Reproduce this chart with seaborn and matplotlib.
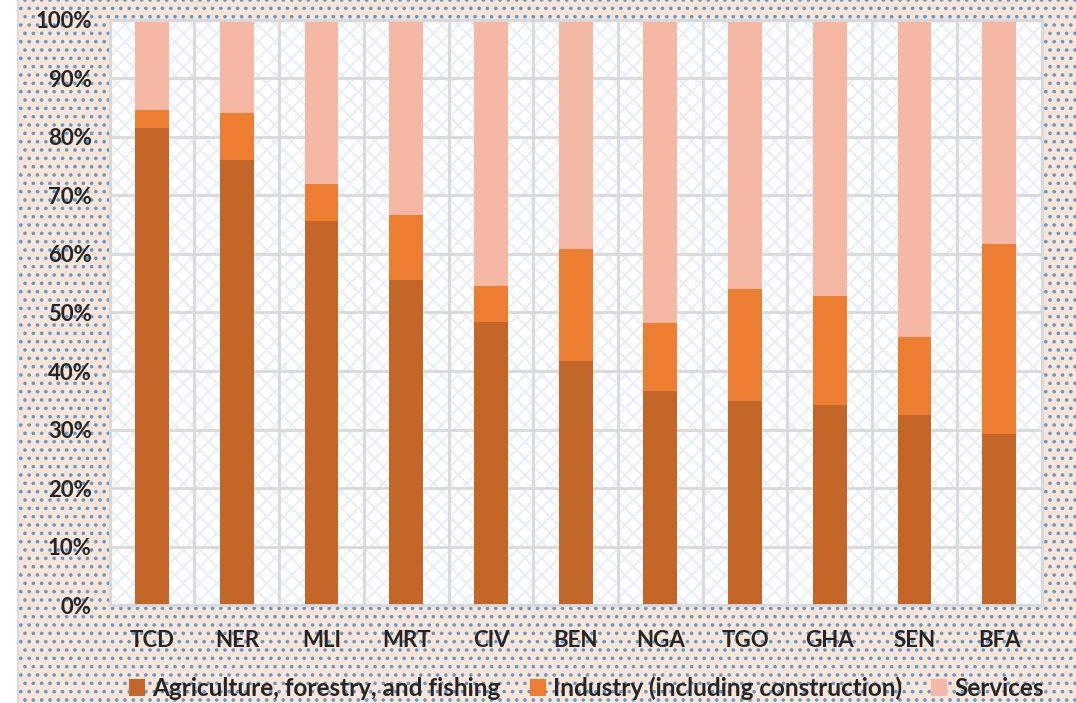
import numpy as np
import pandas as pd
import matplotlib
matplotlib.use("Agg")
import matplotlib.pyplot as plt
import seaborn as sns
from matplotlib.patches import Rectangle
from matplotlib.ticker import FixedLocator, PercentFormatter

# Datos (porcentaje del empleo por sector)
countries = ["TCD", "NER", "MLI", "MRT", "CIV", "BEN", "NGA", "TGO", "GHA", "SEN", "BFA"]
agriculture = [81.5, 76.1, 65.6, 55.6, 48.4, 41.7, 36.6, 34.9, 34.2, 32.5, 29.2]
industry = [3.1, 8.0, 6.4, 11.1, 6.1, 19.2, 11.6, 19.1, 18.6, 13.3, 32.5]
services = [100 - a - i for a, i in zip(agriculture, industry)]

labels = ["Agriculture, forestry, and fishing",
          "Industry (including construction)",
          "Services"]
colors = ["#C46628", "#ED7D31", "#F4B8A4"]

df = pd.DataFrame({"country": countries, "agri": agriculture,
                   "ind": industry, "serv": services})
df["top_ind"] = df["agri"] + df["ind"]
df["top_serv"] = df["top_ind"] + df["serv"]

sns.set_style("white")
plt.rcParams["font.family"] = ["Lato", "DejaVu Sans"]
plt.rcParams["hatch.linewidth"] = 1.4

fig = plt.figure(figsize=(10.76, 7.03), dpi=100)
fig.patch.set_facecolor("#FBE5D6")
fig.patch.set_edgecolor("#5B9BD5")
fig.patch.set_hatch("..")
fig.patch.set_linewidth(0)

# franja blanca a la izquierda con borde gris
fig.patches.append(Rectangle((0, 0), 0.016, 1, transform=fig.transFigure,
                             facecolor="white", edgecolor="none", zorder=0))
fig.patches.append(Rectangle((0.016, 0), 0.002, 1, transform=fig.transFigure,
                             facecolor="#D9D9D9", edgecolor="none", zorder=0))

ax = fig.add_axes([0.102, 0.139, 0.866, 0.833])
ax.patch.set_facecolor("white")
ax.patch.set_edgecolor("#E6EEF8")
ax.patch.set_hatch("\\\\//")
ax.patch.set_linewidth(0.5)
ax.set_axisbelow(True)

# Barras apiladas: de arriba hacia abajo
bar_kw = dict(width=0.4, saturation=1, ax=ax, zorder=2, linewidth=0, edgecolor="none")
sns.barplot(data=df, x="country", y="top_serv", color=colors[2], label=labels[2], **bar_kw)
sns.barplot(data=df, x="country", y="top_ind", color=colors[1], label=labels[1], **bar_kw)
sns.barplot(data=df, x="country", y="agri", color=colors[0], label=labels[0], **bar_kw)

handles, labs = ax.get_legend_handles_labels()
if ax.get_legend() is not None:
    ax.get_legend().remove()

ax.set_xlim(-0.5, len(countries) - 0.5)
ax.set_ylim(0, 100)
ax.set_yticks(np.arange(0, 101, 10))
ax.yaxis.set_major_formatter(PercentFormatter(decimals=0))
ax.xaxis.set_minor_locator(FixedLocator(np.arange(-0.5, len(countries), 1)))
ax.grid(axis="y", which="major", color="#D9D9D9", linewidth=2)
ax.grid(axis="x", which="minor", color="#D9D9D9", linewidth=2)
ax.set_xlabel("")
ax.set_ylabel("")
ax.tick_params(axis="both", which="both", length=0)
ax.tick_params(axis="y", pad=13)
ax.tick_params(axis="x", pad=18)
for lab in ax.get_xticklabels() + ax.get_yticklabels():
    lab.set_fontsize(16)
    lab.set_fontweight("bold")
for s in ax.spines.values():
    s.set_color("#D9D9D9")
    s.set_linewidth(2)

order = [labs.index(l) for l in labels]
fig.legend([handles[i] for i in order], [labs[i] for i in order],
           loc="center", bbox_to_anchor=(0.545, 0.021), ncol=3,
           frameon=False, prop={"weight": "bold", "size": 17.5},
           handlelength=0.65, handleheight=0.65, handletextpad=0.3,
           columnspacing=1.2, borderpad=0)

plt.savefig("out.png", dpi=100, facecolor=fig.get_facecolor())
plt.close()
